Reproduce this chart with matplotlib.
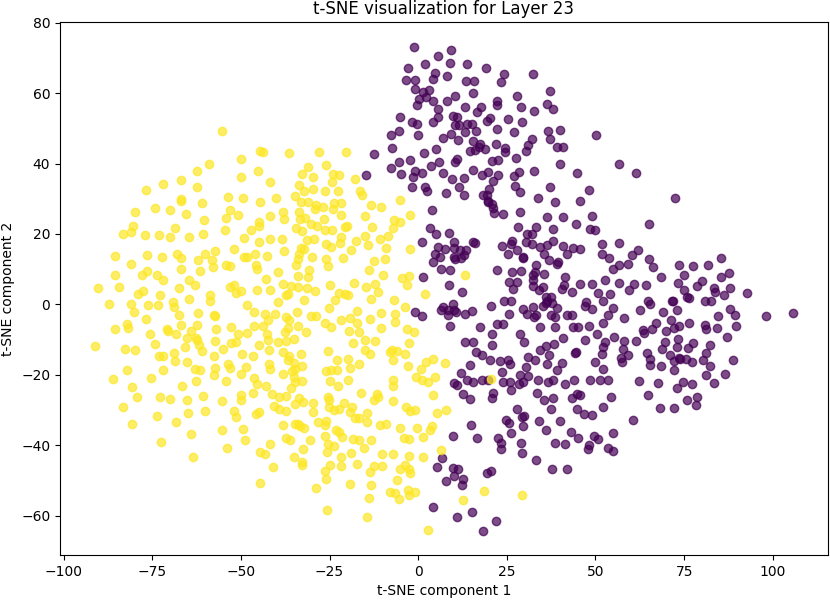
import matplotlib
matplotlib.use("Agg")
import matplotlib.pyplot as plt
import numpy as np

title = "t-SNE visualization for Layer 23"
xlabel = "t-SNE component 1"
ylabel = "t-SNE component 2"

# class 1 (yellow) points (t-SNE component 1, component 2)
class1_points = [
    (-55.3,49.3),(-59.0,39.9),(-50.0,41.3),(-44.5,43.5),(-62.3,37.8),(-45.2,38),(-50,36.3),(-71.9,34.3),(-67,35.4),(-76.7,32.5),
    (-62.4,33.4),(-53.6,30.4),(-49.4,30.2),(-67,29.5),(-66.8,30.0),(-60.9,28.8),(-79.9,26.3),(-74.3,27.5),(-70,26.9),(-65.6,25.8),
    (-53.2,26.7),(-50.9,25.4),(-54.3,24.6),(-44.5,29),(-60.3,24.1),(-45,23.5),(-44.8,22.3),(-80.5,22.2),(-83.3,20),(-81.1,20.6),
    (-77,19.6),(-73.2,19.6),(-70,19.2),(-68.7,21.7),(-64.6,19.2),(-60.6,20),(-54.6,21),(-49.2,18.8),(-47.1,21.2),(-45,17.7),
    (-85.5,13.7),(-81,11.5),(-76.5,14),(-72.3,13.5),(-68.1,14.2),(-66.8,13.2),(-62.2,12.5),(-60.2,14.3),(-57.2,15.2),(-58.1,12.5),
    (-51.9,15.6),(-49,13.4),(-48.3,13.5),(-46.1,14.2),(-76.4,9.6),(-66.8,10.2),(-61.4,9.5),(-57.8,10.7),(-54.2,11.2),(-53,10.9),
    (-45.7,11.3),(-45.4,10.2),
    (-85.5,8.5),(-77.8,8.3),(-73.6,8.3),(-71.9,7),(-90.2,4.8),(-84.4,4.9),(-79,3),(-77.5,3.8),(-72.9,2.7),(-67.5,4.6),
    (-64.5,7),(-62.8,5.6),(-58.8,2.8),(-58.8,1.1),(-53.1,4.9),(-51.9,5.5),(-51.5,3.3),(-49.9,3.7),(-45.4,4),(-87.3,0),
    (-81.1,0.2),(-80.2,-2.1),(-76.2,-0.1),(-73.4,-0.2),(-69.2,0.7),(-68.9,-0.6),(-64.6,1.5),(-67.5,-2.9),(-62.2,-2.4),(-57.5,-3),
    (-57.2,-3.2),(-48.3,-0.1),(-46.3,-2.2),(-76.7,-4.1),(-82.1,-5.5),(-81.9,-6.6),(-85.5,-7.1),(-75.6,-8.3),(-70.9,-7.1),(-70.6,-7.5),
    (-68.3,-8.3),(-66.8,-5.7),(-64,-7.4),(-62.5,-5.7),(-65.3,-9.4),(-62.7,-9.5),(-62.3,-10.2),(-61.8,-11.5),(-60.9,-13.2),(-57,-6.9),
    (-57.3,-10.4),(-52.9,-6.3),(-50.7,-8.3),(-48.4,-8.1),(-52.8,-11),(-51.5,-10.6),(-54.9,-12.6),(-46.3,-6),(-45,-11.6),(-91.2,-11.7),
    (-82.7,-12.7),(-79.9,-12.8),(-74.1,-11.2),(-73.2,-14.7),(-71.9,-14.7),(-68.8,-13.8),(-68.6,-16.1),(-65.8,-12.2),(-65.2,-16.3),(-62.9,-18.3),
    (-61.4,-18.7),(-57.5,-14.7),(-57.4,-18),(-57.5,-20.1),(-53.5,-16.8),(-53.2,-18),(-49.7,-14.2),(-48.6,-17.8),(-46.5,-14.7),(-50.1,-19.6),
    (-46.3,-20.9),(-45.4,-22.5),(-82.1,-18.6),(-86.1,-21.1),(-75.3,-20.9),(-71.9,-18.7),(-80.6,-23.4),(-79.4,-26.4),(-72.9,-26.2),(-70,-26.7),
    (-66.7,-23),(-62.6,-21.8),(-54.2,-21.8),(-65.2,-27),(-60.6,-26),(-55.4,-27.4),(-50,-25.8),(-49.9,-27),(-46.6,-25.1),(-83.2,-29.2),
    (-73.7,-31.7),(-68.4,-33.4),(-65,-30.9),(-60.1,-30.3),(-51.9,-30.1),(-51.4,-31.9),(-45.7,-31),(-45,-30.5),(-80.7,-33.8),(-64.2,-36.7),
    (-55.3,-35.6),(-49.4,-35.3),(-48.8,-38.4),(-72.5,-38.9),(-53.8,-40.6),(-63.5,-43.3),
    (-43.8,43.4),(-36.5,43),(-27.9,43.2),(-20.3,43.2),(-41.9,34.7),(-31.1,39),(-26,39.7),(-32.8,37),(-29.7,36.3),(-24.1,37.1),
    (-22.4,36.6),(-17.8,35.6),(-33.7,33.9),(-32.1,32.3),(-29.7,32.8),(-26.3,32.1),(-24.3,34.7),(-22.7,32.3),(-16.3,32.3),(-15.9,31.2),
    (-34.8,30.8),(-33,29.1),(-31,29.2),(-28.7,28.2),(-29,27),(-26.9,27.6),(-23.6,28.7),(-21.7,28.8),(-24.1,27.1),(-40.1,30.1),
    (-13.4,28.1),(-10.4,27.6),(-5.2,29.6),(-38,26.2),(-37.7,24.3),(-41.7,25.2),(-33.7,26.2),(-33.2,24.3),(-32,24.5),(-30.2,22.9),
    (-28.4,22.4),(-26.6,24.2),(-21.8,25.5),(-14.9,25),(-34.4,21.8),(-32.7,20.8),(-26.2,21.2),(-24.3,21),(-20.7,22.1),(-20.1,22.4),
    (-13,22.1),(-6.8,24),(-5.1,23.4),(-2.3,25.3),(-7.2,21.7),(-41.9,18.5),(-38.4,18.5),(-31.3,18.4),(-29.4,18.6),(-26,17.2),
    (-24.7,16.3),(-21.7,19.1),(-22.1,17.4),(-17.5,18),(-15.1,19.3),(-14.1,16.9),(-10.9,18.5),(-8.5,19.5),(-18.9,15.5),(-9.1,16),
    (-2.2,15.7),(-37.9,15.3),(-42.6,13.7),(-33.1,16.1),(-32.1,15.8),(-33.5,14.4),(-33.9,13),(-34.5,11.1),(-29.8,13.6),(-25.9,13),
    (-21.2,13.3),(-12.5,12.3),(-14,9.9),(-9.3,13),(-39.5,9.2),(-30.9,9.7),(-31.2,7.8),(-33.9,8),(-25.3,11),(-10,8.3),
    (-4.6,7.5),(-2.5,8),(-3.2,5.4),(-43,7.3),(-38,5.9),(-36,5.1),(-34,4.9),(-31.3,4.6),(-29,3.8),(-24.9,5.6),
    (-18,6.1),(-14.7,5),(-12.3,5.9),(-11.2,3.5),(-20.7,3.1),(-22.3,3.3),(-41.7,4),(-37.3,2.6),(-36.6,2.9),(-32.2,1.4),
    (-23.5,1.4),(-19.7,2.6),(-13.2,1.6),(-6.9,1.2),(1.8,3),(-39.5,0.7),
    (-43.3,-2.8),(-43.8,-6),(-42.3,-4.5),(-40.5,-2.7),(-37.3,-3.6),(-36.3,-4.3),(-36.7,-6.7),(-37.5,-7.8),(-34.2,-2.2),(-33.9,-6),
    (-31.6,-7.7),(-30.1,-3.4),(-28.7,-3.4),(-25.2,-0.9),(-26.3,-5.3),(-24.6,-6.4),(-21.9,-4.4),(-19.3,-3.9),(-17.2,-1.9),(-17.2,-5.3),
    (-19.6,-7.5),(-16.8,-7.7),(-13.6,-4.1),(-10.6,-2.3),(-6.6,-2.7),(-6.6,-5),(-10.4,-6.8),(-3.6,-0.8),(-3.2,-7),(-1.2,-7.7),
    (-42.6,-8.3),(-42.4,-10),(-42.1,-13),(-39.5,-10.7),(-37.3,-10.5),(-38.2,-13.5),(-34.9,-9.9),(-33,-14),(-36.5,-14.5),(-36.8,-15.9),
    (-35.1,-16.6),(-32.9,-17.6),(-34.8,-18.2),(-35.6,-18.9),(-42,-17),(-41.7,-18.2),(-38.2,-19.6),(-35.1,-20.6),(-34.6,-22),(-32.8,-21.8),
    (-35.8,-23.6),(-42.8,-23),(-25.5,-13.2),(-22.9,-15.9),(-19.8,-15.4),(-16.8,-16.8),(-26.1,-18.9),(-24.5,-18.7),(-22.9,-18.7),(-19.3,-18),
    (-24.8,-21.7),(-22.5,-23.2),(-19.9,-21.5),(-14.9,-10),(-12.3,-10.4),(-14.9,-12.8),(-13.5,-14),(-18.4,-11),(-7.5,-12.9),(-7.9,-13.5),
    (-6,-13.2),(-7.2,-15.9),(-3.6,-14.2),(-2.7,-11),(-2.9,-17.6),(0.7,-18.4),(2.2,-16.3),(-0.6,-20.6),(1.2,-21.5),(2.7,-22),
    (4.1,-15.4),(-7.2,-21.5),(-7.2,-23.2),(-16.2,-25.1),(-11.6,-25.5),(-11.2,-26.3),(-12.4,-27.2),(-7.2,-27.5),(-41.2,-25.5),(-39.3,-26.3),
    (-37.4,-26.1),(-33.7,-26.5),(-32.5,-27.7),(-34.8,-28.3),(-40.7,-28.9),(-39.3,-29.6),(-37.2,-30.3),(-29.7,-27.9),(-29.6,-30.5),(-25.4,-26.4),
    (-25.1,-27.2),(-25.2,-29.1),(-23.7,-30),(-21,-28.1),(-22.2,-29.6),(-18.7,-29.1),(-19.3,-30.5),(-17.7,-32.1),(-16.6,-32.1),(-14.4,-30.8),
    (-14.3,-33.3),(-3.4,-29.1),(-2.2,-30.2),(-1,-30),(-38.2,-34.1),(-34.8,-33.8),(-33.9,-33.8),(-33.4,-34.6),(-32.1,-35),(-28.2,-33.4),
    (-25.9,-33.1),(-26.4,-34.3),(-23.1,-35.7),(-22.4,-36.2),(-21.5,-37.6),(-10.9,-34.3),(-9.1,-34),(-5.2,-35),(-0.4,-35.1),(-37.4,-37.8),
    (-36.2,-38.5),(-30.6,-38.4),(-26.2,-37.3),(-25.4,-39.5),(-23.6,-40.1),(-25.8,-41.8),(-18.5,-38.1),(-16.7,-38.5),(-15.3,-40.6),(-13.2,-38.5),
    (-4.1,-37.8),(-2.7,-38.3),(1.3,-37.6),(-41.9,-39.5),(-44.5,-41.8),(-43.3,-42.5),(-32.5,-41.1),(-35.1,-43.3),(-32.8,-44.7),(-32.8,-45.6),
    (-40.9,-46.1),(-24.8,-45.6),(-21.7,-43.3),(-21.7,-45.8),(-19,-42.1),(-17.2,-45.4),(-10.3,-42.3),(-7.1,-42.3),(-2.5,-43),(1.3,-43.3),
    (-12.4,-45.8),(-10.2,-45.8),(-13.5,-47.5),(-5.2,-46.7),(-3.6,-45.6),(-2.5,-46.7),(-2.4,-47.8),(-26.2,-47.3),(-25.9,-49.6),(-6.1,-49.9),
    (-13.2,-51.3),(-19.3,-51),(-28.7,-52.2),(-44.7,-50.8),(-7.9,-53.2),(-6.5,-53.6),(-5.3,-55.2),(-3,-52.7),(-2.5,-54.1),(-1,-53.2),
    (-14,-54.8),(-25.7,-58.4),(-14.4,-60.2),(2.7,-64),
    (13.1,8.5),(7.6,-16.5),(4.8,-20.6),(20.6,-21.1),(4.1,-25.6),(5.3,-30.7),(7.9,-29.9),(3.8,-34.5),(3.2,-35.7),(6.4,-41.4),
    (18.6,-52.9),(12.5,-55.6),(29.4,-54.2),
]

# class 0 (purple) points (t-SNE component 1, component 2)
class0_points = [
    (-1.3,73.2),(5.5,70.5),(9.2,72.2),(2,68.1),(9,68.5),(13.7,68.1),(-2.8,67),(4.8,65.6),(4.3,63.9),(8.1,64.7),
    (19.2,67.2),(24.1,65.3),(23.4,63),(32.5,65.5),(-3.4,63.7),(-0.8,63.6),(-1,61.1),(13.4,63.4),(15.8,63.4),(1.5,60.3),
    (3.1,60.8),(0.3,58.3),(-0.2,56.6),(2.3,58.9),(4.3,57.8),(10.4,59.2),(8.1,57.8),(15.6,59.9),(5.7,55.6),(5.5,53.3),
    (4.1,51.8),(13.2,56.1),(17.7,56.1),(16.5,54.5),(22.2,57.8),(22.2,56.6),(27.8,59.2),(28.9,55.9),(32.7,54.9),(37.2,60.6),
    (36.3,57),(38.1,55.4),(-5.1,53.1),(-1.8,51.8),(-0.2,51.2),(-5.5,49.3),(-7.6,48.2),(-0.1,48.1),(9.8,53.5),(10.9,53.1),
    (10.4,50.9),(11.6,50.9),(13.7,51.2),(15.1,51.2),(13.1,48.8),(16.2,49.3),(19.3,52.1),(20.3,52.8),(25.2,52.6),(29.2,51.8),
    (22.2,49.8),(27.1,48.8),(36.7,49.1),(40,49.6),(37.2,46.9),(32,46.9),(31.1,45.2),(30.3,43.6),(39.1,44.8),(40.8,44.6),
    (-7.5,44.4),(9.3,48.5),(7.1,47.2),(11.1,46.6),(5,44.1),(1.7,43),(14.5,43.6),(15.9,43.9),(17.5,45.5),(17.2,44.8),
    (18.9,44.1),(15.4,46.5),(21.9,45.5),(24.5,44.3),(24.5,43.2),(10.9,41.3),(10.4,40.5),(6,40.3),(3.7,39.4),(-5.3,40.3),
    (-2.4,41.1),(-7.7,38.6),(20.8,40.8),(22.5,41.1),(27.6,41.5),(40,40),(-4.9,37),(-1.6,36.1),(-1,38),(1.2,37.2),
    (7.1,37.2),(9.5,35.6),(12.8,36),(15.4,38.2),(18,36.7),(19.8,37.7),(22.6,36.8),(21,35),(20.1,32.9),(19.3,31.1),
    (19.8,29.5),(26.9,36.5),(28.5,37.7),(32.7,37.9),(44.7,37.2),(-1.8,33.2),(2,33.2),(2.6,32.1),(7.9,31.6),(11.4,33.2),
    (13,31.2),(18.2,31.2),(27.3,33.5),(28.7,31.8),(37.2,33.2),(33.9,30.2),(38.6,29),(45.6,29.5),(20.8,28.5),
    (-12.4,42.7),(-14.6,36.8),(50.1,48.2),(48.2,32.5),
    (3.8,26.8),(19.8,29),(21,27.4),(21.4,25.9),(24,25.7),(28.7,26.3),(36.2,24.7),(40.7,24.9),(44.5,22.8),(49,25.1),
    (3.4,21.7),(5.1,20),(8.8,20.3),(1,17.7),(5.7,16.2),(7.6,15.8),(10.1,17.7),(10.1,16),(11.8,15.5),(13.4,15.5),
    (15.4,17.7),(16.1,17.4),(13,13.9),(4.8,14.2),(6.2,13.4),(4.1,12),(10,13.4),(10.3,12.9),(12,13.2),(6.4,10.1),
    (9,9.8),(1.5,7.7),(8.8,5.4),(12.3,3.5),(28.1,21.9),(30.6,20),(33.2,22.1),(38.1,21.4),(32,20),(23.6,16.7),
    (26.4,18.1),(26.1,17.2),(28,15.5),(25.4,14.2),(30.4,17.7),(32,17.2),(34.4,16.2),(36.2,16.9),(37.9,18),(40.7,16.5),
    (43.8,15.9),(45.6,15.8),(41.9,14.2),(29.5,13.4),(29.7,13.2),(35.6,14.2),(36.9,12.5),(39.5,12),(39.1,11.5),(33.2,11.3),
    (33,9.2),(22.3,9.8),(26.4,9.2),(29,9.6),(51.7,17.2),(51.7,14.4),(53.9,13.2),(49.9,21),(48.4,21.4),(55,10.1),
    (32.3,8.5),(35.6,8.7),(25.7,6.3),(27.8,6.3),(26.7,4.4),(32.3,6.8),(32.5,5.1),(34.2,4),(35.3,4.9),(41.1,5.4),
    (40.6,4.4),(43.3,3.5),(45.6,5.7),(49.1,5.7),(50.8,3.2),(52.7,7),(41.4,7.7),(20.6,-0.3),(7.1,-0.8),(6.4,-1.7),
    (8.3,-1.7),(9.8,0.2),(10,-1.7),(10.7,-2.2),(13.2,-2.7),(15.1,-1.9),(8.5,-3.1),(24.2,0.9),(26.1,1.1),(25.7,-2.7),
    (29.7,-1.2),(30.8,-2.6),(32.8,-3.6),(33.2,-3.1),(32.5,-0.6),(35.3,-0.3),(36.4,1.1),(36.1,2.1),(37.4,2.1),(37.7,0.4),
    (36.1,0.4),(39.2,-0.9),(37.5,-3.1),(38.6,-3.6),(47.2,0.7),(47,-0.3),(48.9,-1.2),(52,1.1),(54.8,-0.9),(53.6,-3.1),
    (52,-5.3),(41.9,-3.1),(43.3,-3.1),(43.6,-6.4),(45.2,-6.4),(48.3,-6.2),(9,-6.2),(17.5,-6.4),(22.2,-5.5),(24,-5.5),
    (28.7,-8.3),(29.9,-10.7),(34.4,-6.4),(38.6,-6.4),(40.8,-9.6),(36,-11.8),(38.4,-11.1),(44.2,-13.8),(44.5,-13.6),(47.1,-10.2),
    (50.3,-8.3),(52.7,-10.7),(55.2,-9.3),(52.2,-12.1),(51.7,-14),(49.9,-16.3),(52,-18.2),(53.6,-21.5),(51.3,-21.5),(20.8,-8.5),
    (20.7,-11.4),(13.1,-10.7),(15.6,-10.7),(16.3,-13.5),(17.9,-14.4),(20.3,-15.9),(23.1,-16.1),(25.4,-15.7),(25.9,-17),(31.1,-14.9),
    (33,-15.9),(36.2,-16.8),(34.4,-13),(37,-14.4),(40.5,-16.5),(39.1,-18.7),(28.7,-20.1),(30.4,-17.8),(29.7,-22),(31.1,-20.4),
    (23.6,-19.2),(14.6,-17.1),(12,-19.4),(10,-22.3),(10.9,-22.8),(13.7,-21.5),(15.6,-22),(17.9,-21.5),(19.8,-21.5),(23.8,-22),
    (25.9,-22),(28.3,-22.5),(33.9,-21.5),(36.7,-22),(37.9,-21.5),(41.4,-22.7),(43.9,-21.5),(48.4,-21.5),
    (-0.8,-2),(1.2,-3.4),
    (12.6,-25.3),(14.5,-26.7),(20.7,-26.5),(21.2,-25),(26.1,-24.4),(33.4,-25),(35.6,-27.2),(38.1,-26.5),(37.4,-29.6),(43.3,-26.5),
    (44.7,-25.3),(45.6,-25.8),(44.7,-29.6),(46.8,-31),(48.9,-31.3),(52.2,-29.1),(54.3,-26.4),(28,-29.6),(24.8,-32.9),(25.7,-33.6),
    (29.2,-31.9),(29.9,-31.7),(29.5,-34.6),(34.2,-33.1),(40,-33.2),(36.1,-35.7),(43.1,-36.2),(45.2,-37.9),(49.6,-37.4),(50.8,-38.1),
    (55,-36.5),(53.4,-40.7),(55,-41.6),(48.3,-40),(47.8,-40.9),(38.6,-39.2),(41.4,-39.7),(14.9,-34.1),(9.8,-37.4),(16.5,-37.9),
    (22.6,-37.8),(23.3,-39.2),(23.3,-41.1),(26.1,-36.6),(29,-39.2),(29.3,-42.1),(33.2,-44),(37.8,-46.6),(42.1,-46.6),(6.8,-43.7),
    (5.4,-46.1),(9.7,-46.3),(11.1,-46.6),(10,-48.6),(7.9,-50.1),(12.6,-49.6),(12.4,-51.3),(19.5,-47.7),(20.6,-47.2),(4.1,-57.4),
    (10.9,-60.3),(15.3,-59),(22,-61.4),(18.2,-64.2),
    (56.7,40),(61.4,37.2),(72.4,30.1),(65.1,22.8),(56.7,17.3),(62.1,15.5),(60.2,13.9),(59.2,11.5),(56.7,11.2),(65.1,12.9),
    (66.3,10.6),(68.6,7.9),(73.6,11.2),(77.6,11),(81.6,11.2),(85.5,13.2),(75,8.4),(85.3,7.7),(87.7,8.9),(56.7,6.1),
    (60.8,5.8),(59.4,4.2),(64.2,5.5),(73.3,6),(74.9,4.2),(78.7,5.3),(79.9,6.6),(83.4,4.7),(83.7,3.5),(86.2,2.7),
    (87.9,4.6),(92.6,3.3),(64.9,1.1),(65.3,0.2),(71.5,1.1),(72,1.1),(75.9,2.1),(76.3,1.8),(80.8,1.1),(82.7,0.9),
    (54,3),
    (87.9,-1.4),(89.3,-2.9),(98.2,-3.3),(105.7,-2.4),(58.1,-3.8),(62.5,-1.7),(69.1,-2),(72.9,-1.5),(71.2,-4.3),(67.1,-5.3),
    (65.8,-6.9),(63.3,-7.2),(63.8,-8.1),(69.8,-7.4),(72.1,-6.7),(73.6,-6.2),(76.3,-5.2),(80.9,-5.8),(81.1,-7.1),(84.6,-3.3),
    (84.4,-6.7),(89.6,-6.1),(87,-9.2),(61.4,-10.4),(58.1,-10.4),(57.7,-12.6),(59.2,-14.3),(57.1,-15.1),(57.4,-16.3),(69.6,-10.7),
    (68.8,-12.6),(73.2,-9.7),(72.9,-12.1),(76,-12.3),(77.4,-10.9),(82.3,-11.6),(64.4,-13.7),(65.5,-15.6),(65.5,-17.3),(68.5,-17.6),
    (71,-14.3),(72.1,-16.1),(73.5,-15.2),(73.8,-15.6),(75.5,-15.4),(77.3,-16.3),(72.1,-18.7),(81.1,-13.7),(80.4,-15.9),(82.3,-17.5),
    (88.8,-15.9),(81.1,-19.9),(86.5,-19.6),(62.4,-21.7),(67.7,-22.3),(74.6,-22),(77.1,-22.7),(73.1,-23.7),(83.5,-22.3),(64.9,-25.6),
    (75.9,-27.2),(78.7,-26.4),(78.3,-28.6),(68.2,-29.4),(72.1,-29.3),(60.7,-32.9),
]

c0 = np.array(class0_points)
c1 = np.array(class1_points)
cmap = plt.get_cmap("viridis")

fig = plt.figure(figsize=(8.3, 6.0), dpi=100)
ax = fig.add_axes([0.0723, 0.075, 0.925, 0.888])
ax.scatter(c0[:, 0], c0[:, 1], color=cmap(0.0), alpha=0.7, s=36)
ax.scatter(c1[:, 0], c1[:, 1], color=cmap(1.0), alpha=0.7, s=36)
ax.set_xlim(-101.0, 115.5)
ax.set_ylim(-71.1, 80.1)
ax.set_title(title)
ax.set_xlabel(xlabel)
ax.set_ylabel(ylabel)
fig.savefig("out.png", dpi=100)
